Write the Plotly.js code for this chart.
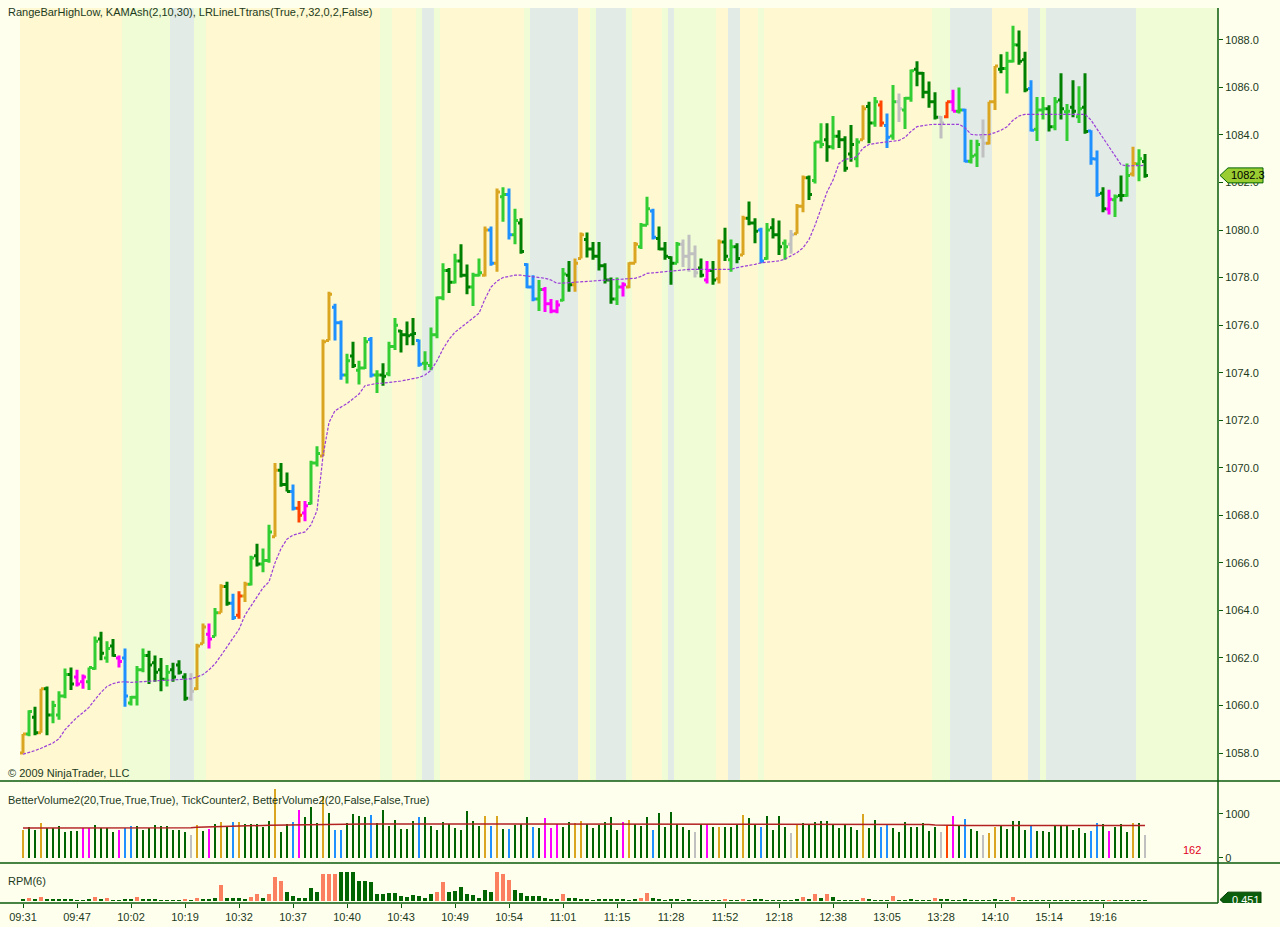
<!DOCTYPE html>
<html><head><meta charset="utf-8">
<script src="https://cdn.plot.ly/plotly-3.0.1.min.js"></script>
<style>html,body{margin:0;padding:0;background:#FFFFEE;} #chart{width:1280px;height:927px;}</style>
</head><body><div id="chart"></div>
<script>
// ---------------- DATA ----------------
const timeLabels = ['09:31','09:47','10:02','10:19','10:32','10:37','10:40','10:43','10:49','10:54','11:01','11:15','11:28','11:52','12:18','12:38','13:05','13:28','14:10','15:14','19:16'];
const labelBars = [0,9,18,27,36,45,54,63,72,81,90,99,108,117,126,135,144,153,162,171,180];
const priceTicks = [1058,1060,1062,1064,1066,1068,1070,1072,1074,1076,1078,1080,1082,1084,1086,1088];

// bar colour codes: D dark green, L lime, O goldenrod, B blue, M magenta, R red, G grey
const barColor = "OLDODLLLDM"+"MLLDLDMBLL"+"LDDDLDDDGO"+"OMLODBROLD"+"LLODDBRMLL"+"OOBBLDLLBL"+"DLLDDDBLLL"+"LDLDDLLOBO"+"LBLDBBLMMM"+"LDOODDDDDL"+
  "MOOLLBDDDL"+"GGGDMDODLD"+"ODDBLDDLGO"+"ODLLDLDDDL"+"ODLRBLGLLD"+"DDDGRMLBLL"+"GOODLLDDBL"+"LDLDLDLDBB"+"DMLDLOLD";

const openP = [
1058.0,1058.8,1059.5,1058.85,1060.7,1059.6,1059.6,1060.4,1061.3,1061.2,
1061.0,1061.0,1061.55,1062.8,1062.0,1062.5,1062.0,1062.0,1060.1,1060.35,
1061.5,1062.1,1061.8,1061.5,1061.1,1061.5,1061.7,1061.2,1060.3,1060.7,
1062.6,1063.0,1062.9,1063.9,1065.0,1064.3,1063.8,1064.6,1065.1,1066.3,
1065.95,1066.1,1067.1,1069.9,1069.3,1069.0,1068.3,1068.1,1068.5,1070.2,
1070.5,1075.35,1076.75,1076.1,1073.9,1074.7,1074.1,1074.2,1075.4,1073.9,
1073.9,1073.95,1075.1,1075.75,1075.6,1075.6,1075.35,1074.4,1074.3,1075.6,
1077.15,1078.3,1077.8,1078.7,1078.1,1077.6,1078.1,1078.1,1080.0,1078.6,
1081.4,1081.5,1079.8,1080.3,1078.55,1077.6,1077.1,1077.5,1076.9,1076.6,
1077.05,1078.1,1077.7,1078.8,1079.6,1079.2,1078.9,1078.5,1077.9,1077.1,
1077.6,1077.6,1078.6,1079.3,1080.2,1080.8,1079.65,1079.2,1078.85,1078.6,
1079.4,1078.9,1079.0,1078.4,1077.9,1078.3,1077.95,1079.5,1078.75,1079.3,
1078.95,1080.5,1080.3,1080.0,1078.8,1080.1,1079.8,1079.45,1079.4,1079.85,
1081.0,1082.2,1082.08,1083.7,1083.8,1083.5,1083.95,1083.8,1083.2,1083.0,
1083.8,1085.2,1084.5,1085.26,1084.4,1083.96,1085.4,1085.05,1085.55,1086.76,
1086.6,1085.8,1085.4,1084.75,1084.77,1085.4,1085.0,1085.05,1082.9,1083.16,
1083.9,1083.65,1085.4,1086.76,1086.8,1087.1,1087.79,1087.16,1085.96,1084.24,
1085.05,1085.1,1084.35,1085.47,1084.98,1085.17,1084.77,1085.17,1084.17,1082.99,
1081.55,1080.89,1081.27,1081.45,1081.45,1082.36,1082.78,1082.88];

const highP = [
1058.8,1059.8,1059.95,1060.7,1060.8,1060.2,1060.6,1061.55,1061.6,1061.5,
1061.3,1061.6,1062.9,1063.1,1062.7,1062.8,1062.1,1062.4,1060.4,1061.66,
1062.4,1062.3,1062.1,1062.0,1061.7,1061.8,1061.9,1061.35,1061.35,1062.6,
1063.45,1063.45,1064.1,1065.1,1065.2,1064.7,1064.8,1065.2,1066.3,1066.8,
1066.6,1067.6,1070.2,1070.2,1069.8,1069.3,1068.6,1068.6,1070.3,1070.9,
1075.4,1077.4,1076.9,1076.2,1074.8,1075.3,1074.5,1075.5,1075.5,1074.1,
1074.4,1075.3,1076.3,1075.8,1076.15,1076.3,1075.4,1074.9,1075.9,1077.2,
1078.6,1078.4,1079.0,1079.4,1078.55,1078.2,1078.8,1080.15,1080.15,1081.75,
1081.8,1081.75,1080.9,1080.5,1078.6,1078.1,1077.9,1077.6,1077.1,1077.05,
1078.4,1078.7,1078.8,1079.9,1079.9,1079.5,1079.5,1078.6,1078.0,1078.0,
1077.8,1078.65,1079.5,1080.3,1081.4,1080.9,1080.15,1079.5,1078.9,1079.5,
1079.6,1079.8,1079.35,1078.8,1078.7,1078.7,1079.6,1080.1,1079.6,1079.45,
1080.6,1081.2,1080.5,1080.1,1080.3,1080.5,1080.4,1079.6,1080.0,1081.1,
1082.3,1082.3,1083.72,1084.49,1084.49,1084.8,1084.2,1083.95,1084.42,1083.86,
1085.25,1085.4,1085.6,1085.45,1084.9,1086.1,1085.75,1085.6,1086.75,1087.1,
1086.65,1086.25,1085.8,1084.8,1085.4,1085.9,1086.0,1085.1,1083.8,1083.8,
1084.65,1085.4,1086.9,1087.4,1087.5,1088.6,1088.4,1087.5,1086.3,1085.6,
1085.6,1085.25,1085.6,1086.6,1085.3,1086.3,1086.05,1086.6,1084.2,1083.35,
1081.8,1081.7,1081.5,1082.3,1082.8,1083.5,1083.4,1083.2];

const lowP = [
1058.0,1058.7,1058.75,1058.85,1058.75,1059.25,1059.4,1060.3,1060.65,1060.8,
1060.7,1060.65,1061.5,1061.9,1061.8,1062.05,1061.6,1059.95,1060.0,1060.0,
1061.4,1060.9,1061.0,1060.6,1060.8,1061.0,1061.3,1060.2,1060.2,1060.65,
1062.6,1062.4,1062.9,1063.9,1064.2,1063.6,1063.65,1064.35,1065.05,1065.85,
1065.6,1066.0,1067.1,1069.2,1069.0,1068.2,1067.7,1067.75,1068.45,1070.05,
1070.5,1075.35,1075.35,1073.7,1073.55,1074.2,1073.5,1074.15,1073.8,1073.15,
1073.45,1073.85,1074.95,1074.85,1075.15,1075.15,1074.25,1074.1,1074.1,1075.45,
1077.05,1077.35,1077.75,1078.0,1077.3,1076.8,1078.05,1078.05,1078.5,1078.25,
1080.35,1079.6,1079.4,1079.0,1077.55,1077.0,1076.6,1076.55,1076.5,1076.5,
1077.0,1077.4,1077.4,1078.8,1078.85,1078.75,1078.3,1077.75,1076.9,1076.85,
1077.2,1077.55,1078.6,1079.2,1080.2,1079.6,1079.15,1078.75,1077.7,1078.6,
1078.45,1078.25,1078.0,1078.0,1077.75,1077.7,1077.75,1078.7,1078.25,1078.6,
1078.95,1080.2,1079.45,1078.6,1078.75,1079.65,1078.95,1078.75,1079.0,1079.85,
1080.75,1081.26,1081.96,1083.44,1082.87,1083.39,1083.45,1082.45,1082.87,1082.64,
1083.8,1083.65,1084.35,1084.35,1083.45,1083.8,1084.55,1084.25,1085.4,1086.05,
1085.55,1085.15,1084.65,1083.85,1084.7,1085.0,1084.9,1082.85,1082.8,1082.65,
1083.05,1083.6,1085.05,1086.6,1085.75,1087.05,1086.95,1085.8,1084.15,1083.75,
1084.65,1084.15,1084.2,1084.65,1083.75,1084.75,1084.5,1084.05,1082.75,1081.4,
1080.75,1080.65,1080.55,1081.2,1081.4,1082.25,1082.05,1082.2];

const closeP = [
1058.8,1059.75,1058.85,1060.7,1059.6,1060.0,1060.4,1061.3,1060.9,1060.9,
1061.2,1061.6,1062.7,1062.2,1062.4,1062.1,1061.85,1060.4,1060.35,1061.5,
1062.1,1061.7,1061.4,1061.1,1061.4,1061.2,1061.4,1060.3,1060.6,1062.5,
1063.3,1062.8,1063.9,1065.0,1064.3,1063.7,1064.6,1065.1,1066.2,1065.95,
1066.1,1067.3,1069.9,1069.3,1069.0,1068.3,1068.0,1068.4,1070.2,1070.6,
1075.3,1077.3,1076.1,1073.9,1074.5,1074.3,1074.2,1075.3,1073.9,1073.9,
1073.85,1075.1,1076.0,1075.6,1075.55,1075.65,1074.35,1074.4,1075.6,1077.15,
1078.3,1077.8,1078.7,1078.1,1077.6,1078.1,1078.2,1080.0,1078.6,1081.6,
1081.5,1079.8,1080.4,1079.1,1077.6,1077.1,1077.5,1076.9,1076.6,1076.85,
1078.15,1077.7,1078.6,1079.8,1079.2,1078.9,1078.5,1077.9,1077.1,1077.6,
1077.7,1078.6,1079.4,1080.2,1080.9,1079.7,1079.2,1078.9,1078.6,1079.4,
1078.9,1079.0,1078.2,1078.1,1078.3,1077.9,1079.5,1078.9,1079.3,1078.8,
1080.5,1080.3,1079.95,1078.7,1080.0,1079.8,1079.3,1079.3,1079.8,1081.0,
1082.2,1081.5,1083.7,1083.6,1083.5,1083.95,1083.8,1082.6,1083.6,1083.7,
1085.1,1084.5,1085.4,1084.5,1083.9,1085.4,1085.1,1085.55,1086.7,1086.6,
1085.8,1085.4,1084.75,1084.5,1085.4,1085.0,1085.05,1082.9,1083.1,1083.6,
1083.65,1085.4,1086.9,1086.8,1087.1,1087.8,1087.1,1085.9,1084.2,1085.05,
1085.1,1084.35,1085.4,1085.1,1085.0,1085.0,1085.1,1084.15,1083.0,1081.5,
1080.9,1081.3,1081.4,1081.45,1082.3,1082.8,1083.0,1082.3];

const kama = [
1057.95,1058.02,1058.1,1058.2,1058.3,1058.42,1058.6,1058.98,1059.25,1059.5,
1059.7,1059.92,1060.25,1060.55,1060.8,1060.92,1060.98,1061.0,1060.97,1060.98,
1061.0,1061.02,1061.04,1061.05,1061.06,1061.08,1061.09,1061.1,1061.12,1061.2,
1061.3,1061.5,1061.75,1062.1,1062.47,1062.8,1063.2,1063.8,1064.2,1064.55,
1064.95,1065.2,1066.0,1066.6,1067.0,1067.17,1067.25,1067.3,1067.6,1068.2,
1070.5,1071.9,1072.4,1072.55,1072.7,1072.9,1073.1,1073.45,1073.5,1073.55,
1073.56,1073.58,1073.6,1073.65,1073.7,1073.75,1073.8,1073.9,1074.1,1074.5,
1075.0,1075.4,1075.7,1075.9,1076.1,1076.3,1076.5,1077.1,1077.6,1077.85,
1078.0,1078.05,1078.1,1078.1,1078.07,1078.05,1078.0,1077.97,1077.9,1077.76,
1077.77,1077.79,1077.8,1077.83,1077.86,1077.88,1077.89,1077.9,1077.91,1077.92,
1077.93,1077.95,1077.97,1078.05,1078.18,1078.2,1078.22,1078.24,1078.25,1078.28,
1078.32,1078.35,1078.35,1078.35,1078.35,1078.35,1078.35,1078.35,1078.35,1078.42,
1078.46,1078.5,1078.56,1078.62,1078.65,1078.67,1078.7,1078.78,1078.9,1079.05,
1079.25,1079.6,1080.2,1080.9,1081.6,1082.1,1082.8,1082.98,1083.0,1083.1,
1083.45,1083.6,1083.65,1083.68,1083.71,1083.73,1083.77,1083.9,1084.15,1084.35,
1084.4,1084.43,1084.45,1084.45,1084.45,1084.45,1084.45,1084.3,1084.03,1084.0,
1084.0,1084.02,1084.1,1084.2,1084.35,1084.62,1084.8,1084.87,1084.87,1084.87,
1084.87,1084.87,1084.87,1084.87,1084.87,1084.87,1084.87,1084.87,1084.63,1084.25,
1083.86,1083.5,1083.1,1082.75,1082.7,1082.7,1082.7,1082.72];

const volume = [
644,712,644,788,674,674,735,583,621,621,
674,682,758,674,674,583,644,674,735,720,
636,674,750,720,720,636,636,583,530,758,
621,659,773,826,735,826,826,773,773,773,
712,833,1560,598,773,826,1100,924,1150,788,
1420,1023,644,644,788,1000,947,939,985,788,
1098,735,871,659,659,848,924,939,735,636,
826,773,674,636,1061,848,720,962,720,962,
659,659,750,773,939,712,674,909,682,773,
712,826,788,848,773,674,750,826,939,636,
826,864,773,735,939,644,1023,697,1038,773,
697,644,598,773,773,697,712,697,712,773,
985,909,773,712,962,644,962,712,561,773,
795,773,826,848,848,773,674,773,712,644,
1000,674,871,712,773,674,598,826,712,697,
788,621,697,598,750,962,750,886,659,621,
530,568,712,750,659,848,848,644,750,621,
621,598,720,720,750,644,682,561,621,795,
773,621,697,773,598,795,795,530];

const volColor = "ODDODDDDDD"+"MMDDDDMBBD"+"DDDDDDDDGO"+"DMDODBODDD"+"DDODDBMDDD"+"ODBBDDDDBD"+"DDDDDDBDDD"+"DDDDDDDOBO"+"DBDDDBDMMM"+"DDOODDDDDD"+
  "MODDDBDDDD"+"DDGDMDODDD"+"ODDBDDDDGO"+"DDDDDDDDDD"+"ODDBBDDDDD"+"DDDGRMDBDD"+"GOODDDDDBD"+"DDDDDDDDBB"+"DMDDDODG";

const volAvg = [
680,680,680,680,680,680,680,680,680,680,
680,680,680,680,680,680,680,680,680,680,
680,680,680,680,680,680,680,680,690,700,
705,710,715,720,725,730,735,735,738,740,
740,742,745,748,750,752,755,758,760,763,
765,768,770,772,773,775,775,775,775,775,
775,775,775,775,775,775,775,775,775,775,
775,775,775,775,775,775,775,775,775,775,
775,775,775,775,775,775,775,775,775,775,
775,775,775,775,775,775,775,775,775,775,
775,775,775,775,775,775,775,775,775,775,
775,775,775,775,775,775,775,775,775,775,
775,775,775,775,775,775,775,775,775,775,
775,775,775,775,775,775,775,775,775,775,
775,775,775,775,775,775,775,775,775,775,
770,760,750,745,740,740,740,740,740,740,
740,740,740,740,740,740,740,740,740,740,
740,740,740,740,740,740,740,740,740,740,
740,740,740,740,740,740,740,740];

const rpm = [
0.7,1.1,0.55,1.45,0.8,0.7,0.8,0.8,0.55,0.35,
0.35,0.7,1.45,0.8,1.1,0.45,0.35,0.7,0.7,1.35,
0.55,0.7,0.55,0.45,0.45,0.45,0.35,0.8,0.35,1.1,
0.7,0.8,1.1,5.3,1.1,1.1,0.9,0.55,1.45,2.45,
0.9,2.45,8.1,6.8,3.1,1.65,1.1,1.1,4.45,3.1,
9.1,9.1,9.1,9.8,9.55,9.55,6.8,6.8,6.45,2.45,
2.2,2.8,2.8,1.65,1.45,2.0,1.8,0.9,2.2,3.1,
6.2,3.1,3.35,4.8,2.2,2.0,0.9,3.55,3.1,9.8,
8.9,7.0,3.55,2.55,1.65,1.65,1.65,1.1,0.55,0.55,
2.45,1.1,1.1,0.8,0.55,0.35,0.55,0.8,0.8,0.55,
0.8,0.35,0.7,0.9,2.8,1.1,0.55,0.45,0.7,0.55,
0.45,0.7,0.45,0.2,0.35,0.45,0.45,0.8,0.35,0.2,
0.8,0.35,0.55,0.7,0.2,0.2,0.2,0.2,0.2,0.55,
1.45,0.7,2.35,1.1,2.35,1.35,0.35,0.35,0.35,0.2,
1.1,0.55,0.45,0.35,0.35,1.65,0.45,0.45,0.7,0.2,
0.2,0.2,1.1,0.55,0.7,0.2,0.2,0.7,0.2,0.2,
0.2,0.2,0.55,0.2,0.2,1.35,0.45,0.2,0.2,0.2,
0.2,0.2,0.2,0.2,0.2,0.2,0.2,0.2,0.2,0.2,
0.2,0.3,0.2,0.2,0.2,0.2,0.2,0.451];

const rpmColor = "DCDCDDDDDD"+"DDCDCDDDDC"+"DDDDDDDCDC"+"DDDCDDDDCC"+"DCCCDDDDDD"+"CCCDDDDDDD"+"DDDDDDDDDC"+"CDDDDDDDDC"+"CCDDDDDDDD"+"CDDDDDDDDD"+
  "DDDCCDDDDD"+"DDDDDDDCDD"+"CDDDDDDDDD"+"CDCDCDDDDD"+"CDDDDCDDDD"+"DDCDDDDDDD"+"DDDDDCDDDD"+"DDDDDDDDDD"+"DCDDDDDD";

// background regime bands: [first bar, last bar, kind]
const bands = [[0,16,'Y'],[17,24,'G'],[25,28,'B'],[29,30,'G'],[31,59,'Y'],[60,61,'G'],[62,65,'Y'],[66,66,'G'],[67,68,'B'],[69,69,'G'],
  [70,83,'Y'],[84,84,'G'],[85,92,'B'],[93,94,'Y'],[95,95,'G'],[96,100,'B'],[101,101,'G'],[102,106,'Y'],[107,107,'G'],[108,108,'B'],
  [109,115,'G'],[116,117,'Y'],[118,119,'B'],[120,122,'Y'],[123,123,'G'],[124,151,'Y'],[152,154,'G'],[155,161,'B'],[162,167,'Y'],
  [168,169,'B'],[170,170,'G'],[171,185,'B'],[186,199,'G']];

const lastPrice = 1082.3;
const lastRpm = 0.451;
const tickCount = 162;

// ---------------- STYLE ----------------
const W = 1280, H = 927, ML = 0, MR = 62, MT = 8, MB = 24;
const plotW = W - ML - MR, plotH = H - MT - MB;
const barPx = 6, firstBarPx = 23;
const xr0 = -firstBarPx / barPx, xr1 = xr0 + plotW / barPx;
const yPx = px => (H - MB - px) / plotH;   // paper y from page pixel
const priceBottom = yPx(781), volBottom = yPx(863);
const FONT = 'Liberation Sans, Arial, sans-serif';
const TXT = '#1C3A1C', AXC = '#0A5A0A';
const priceCols = {D:'#008000', L:'#32CD32', O:'#DAA520', B:'#1E90FF', M:'#FF00FF', R:'#FF4500', G:'#C0C0C0'};
const volCols = {D:'#006400', L:'#006400', O:'#DAA520', B:'#1E90FF', M:'#FF00FF', R:'#FF4500', G:'#C0C0C0'};
const rpmCols = {D:'#006400', C:'#FA8060'};
const bandCols = {Y:'#FFF8D0', G:'#EFFCD6', B:'#E2EBE6'};

const idx = openP.map((_, i) => i);
const traces = [];
Object.keys(priceCols).forEach(code => {
  const sel = idx.filter(i => barColor[i] === code);
  if (!sel.length) return;
  traces.push({
    type:'ohlc', xaxis:'x', yaxis:'y',
    x: sel, open: sel.map(i=>openP[i]), high: sel.map(i=>highP[i]), low: sel.map(i=>lowP[i]), close: sel.map(i=>closeP[i]),
    increasing:{line:{color:priceCols[code], width:3}}, decreasing:{line:{color:priceCols[code], width:3}},
    line:{width:3}, tickwidth:0.5, hoverinfo:'skip', showlegend:false
  });
});
traces.push({type:'scatter', mode:'lines', x: idx, y: kama, xaxis:'x', yaxis:'y',
  line:{color:'#9B3FD8', width:1.2, dash:'3px,1.5px'}, hoverinfo:'skip', showlegend:false});
traces.push({type:'bar', x: idx, y: volume, xaxis:'x', yaxis:'y2', width:0.45,
  marker:{color: idx.map(i=>volCols[volColor[i]]), line:{width:0}}, hoverinfo:'skip', showlegend:false});
traces.push({type:'scatter', mode:'lines', x: idx, y: volAvg, xaxis:'x', yaxis:'y2',
  line:{color:'#B22222', width:1.5}, hoverinfo:'skip', showlegend:false});
traces.push({type:'bar', x: idx, y: rpm, xaxis:'x', yaxis:'y3', width:0.7,
  marker:{color: idx.map(i=>rpmCols[rpmColor[i]]), line:{width:0}}, hoverinfo:'skip', showlegend:false});

const shapes = bands.map(b => ({type:'rect', xref:'x', yref:'paper', x0:b[0]-0.5, x1:b[1]+0.5, y0:priceBottom, y1:1,
  fillcolor:bandCols[b[2]], line:{width:0}, layer:'below'}));
const xr = W / plotW;
shapes.push({type:'line', xref:'paper', yref:'paper', x0:0, x1:xr, y0:priceBottom, y1:priceBottom, line:{color:AXC, width:1.5}});
shapes.push({type:'line', xref:'paper', yref:'paper', x0:0, x1:xr, y0:volBottom, y1:volBottom, line:{color:AXC, width:1.5}});
shapes.push({type:'line', xref:'paper', yref:'paper', x0:0, x1:1, y0:0, y1:0, line:{color:AXC, width:1.5}});
shapes.push({type:'line', xref:'paper', yref:'paper', x0:1, x1:1, y0:0, y1:1, line:{color:AXC, width:1.5}});
// last price marker
shapes.push({type:'path', xref:'paper', yref:'y', xsizemode:'pixel', ysizemode:'pixel', xanchor:1, yanchor:lastPrice,
  path:'M 2 0 L 10 7.5 L 45 7.5 L 45 -7.5 L 10 -7.5 Z', fillcolor:'#9ACD32', line:{color:'#006400', width:1}, layer:'above'});
shapes.push({type:'path', xref:'paper', yref:'y3', xsizemode:'pixel', ysizemode:'pixel', xanchor:1, yanchor:lastRpm,
  path:'M 2 0 L 10 7.5 L 43 7.5 L 43 -7.5 L 10 -7.5 Z', fillcolor:'#0B5E0B', line:{color:'#004000', width:1}, layer:'above'});

const ann = (text, x, y, opts) => Object.assign({text, x, y, xref:'paper', yref:'paper', showarrow:false,
  xanchor:'left', yanchor:'middle', font:{family:FONT, size:11, color:TXT}}, opts || {});
const annotations = [
  ann('RangeBarHighLow, KAMAsh(2,10,30), LRLineLTtrans(True,7,32,0,2,False)', 6/plotW, yPx(12)),
  ann('© 2009 NinjaTrader, LLC', 6/plotW, yPx(773)),
  ann('BetterVolume2(20,True,True,True), TickCounter2, BetterVolume2(20,False,False,True)', 6/plotW, yPx(800)),
  ann('RPM(6)', 6/plotW, yPx(881)),
  ann(String(tickCount), 1192/plotW, yPx(850), {xanchor:'center', font:{family:FONT, size:11, color:'#E00020'}}),
  ann(lastPrice.toFixed(1), 1, lastPrice, {yref:'y', xshift:11, font:{family:FONT, size:11, color:'#000000'}}),
  ann(String(lastRpm), 1, lastRpm, {yref:'y3', xshift:12, font:{family:FONT, size:11, color:'#FFFFFF'}})
];

const tickFont = {family:FONT, size:11, color:TXT};
const layout = {
  width:W, height:H, margin:{l:ML, r:MR, t:MT, b:MB, pad:0},
  paper_bgcolor:'#FFFFEE', plot_bgcolor:'#FFFFEE', showlegend:false, hovermode:false,
  xaxis:{domain:[0,1], range:[xr0, xr1], type:'linear', anchor:'y3', rangeslider:{visible:false},
    tickmode:'array', tickvals:labelBars, ticktext:timeLabels, ticks:'outside', ticklen:4, tickwidth:1, tickcolor:AXC,
    showgrid:false, zeroline:false, showline:false, tickfont:tickFont, fixedrange:true},
  yaxis:{domain:[priceBottom,1], side:'right', anchor:'x', range:[1058 - 28/23.77, 1058 + 745/23.77],
    tickmode:'array', tickvals:priceTicks, ticktext:priceTicks.map(v=>v.toFixed(1)), ticks:'outside', ticklen:4, tickcolor:AXC,
    showgrid:false, zeroline:false, showline:false, tickfont:tickFont, fixedrange:true},
  yaxis2:{domain:[volBottom, priceBottom], side:'right', anchor:'x', range:[-114, 1750],
    tickmode:'array', tickvals:[0,1000], ticktext:['0','1000'], ticks:'outside', ticklen:4, tickcolor:AXC,
    showgrid:false, zeroline:false, showline:false, tickfont:tickFont, fixedrange:true},
  yaxis3:{domain:[0, volBottom], side:'right', anchor:'x', range:[-0.667, 12.67],
    showticklabels:false, ticks:'', showgrid:false, zeroline:false, showline:false, fixedrange:true},
  bargap:0, shapes, annotations
};
Plotly.newPlot('chart', traces, layout, {displayModeBar:false, staticPlot:true});
</script></body></html>
